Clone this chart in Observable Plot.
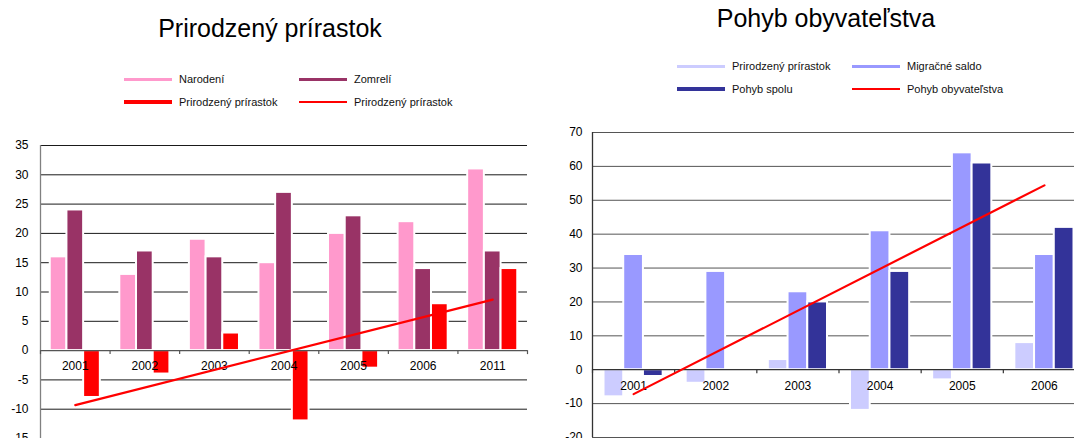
<!DOCTYPE html>
<html><head><meta charset="utf-8">
<script src="https://cdn.jsdelivr.net/npm/d3@7"></script>
<script src="https://cdn.jsdelivr.net/npm/@observablehq/plot@0.6"></script>
<style>
html,body{margin:0;padding:0;background:#fff;overflow:hidden;}
body{width:1074px;height:438px;position:relative;font-family:"Liberation Sans",Arial,sans-serif;color:#000;}
.title{position:absolute;font-size:25px;white-space:nowrap;transform:translateX(-50%);line-height:normal;}
.leg{position:absolute;height:14px;display:flex;align-items:center;font-size:11px;white-space:nowrap;color:#111;}
.leg .sw{display:inline-block;width:48px;margin-right:7px;}
.chart{position:absolute;}
.chart svg{overflow:visible;}
</style></head><body>
<script>
// ---- Left chart data: Prirodzený prírastok ----
const yearsL = ["2001","2002","2003","2004","2005","2006","2011"];
const narodeni = [16, 13, 19, 15, 20, 22, 31];
const zomreli = [24, 17, 16, 27, 23, 14, 17];
const prirastokL = [-8, -4, 3, -12, -3, 8, 14];
const trendLYears = ["2001", "2011"];
const trendLValues = [-9.3, 8.7];
const ticksL = [-15, -10, -5, 0, 5, 10, 15, 20, 25, 30, 35];

// ---- Right chart data: Pohyb obyvateľstva ----
const yearsR = ["2001","2002","2003","2004","2005","2006"];
const prirastokR = [-8, -4, 3, -12, -3, 8];
const migracne = [34, 29, 23, 41, 64, 34];
const pohybSpolu = [-2, null, 20, 29, 61, 42];
const trendRYears = ["2001", "2006"];
const trendRValues = [-7.2, 54.4];
const ticksR = [-20, -10, 0, 10, 20, 30, 40, 50, 60, 70];

const FONT = '"Liberation Sans", Arial, sans-serif';

function makeChart(cfg) {
  const {years, series, trendYears, trendValues, ticks, width, height, marginLeft, marginRight, marginTop, marginBottom,
         gridColor, axisColor, zeroColor, tickPadding} = cfg;
  const n = years.length;
  const step = (width - marginLeft - marginRight) / n;
  const band = step * 0.72;
  const w = band / 3;
  const marks = [];
  marks.push(Plot.ruleY(ticks.filter(t => t !== 0), {stroke: gridColor, strokeWidth: 1}));
  series.forEach((s, i) => {
    const rows = years.map((y, k) => ({year: y, value: s.values[k]})).filter(r => r.value != null);
    marks.push(Plot.barY(rows, {x: "year", y: "value", fill: s.color, stroke: "white", strokeWidth: 2,
      insetLeft: i * w, insetRight: (2 - i) * w}));
  });
  marks.push(Plot.ruleY([0], {stroke: zeroColor, strokeWidth: 1.3}));
  marks.push(Plot.ruleX([years[0]], {x: d => d, dx: -step / 2, stroke: axisColor, strokeWidth: 1.3}));
  marks.push(Plot.ruleX(years, {x: d => d, y1: d => 0, y2: d => 0, dx: -step / 2, insetBottom: -4, stroke: zeroColor, strokeWidth: 1.2}));
  marks.push(Plot.ruleX([years[n - 1]], {x: d => d, y1: d => 0, y2: d => 0, dx: step / 2, insetBottom: -4, stroke: zeroColor, strokeWidth: 1.2}));
  marks.push(Plot.axisY({ticks, tickSize: 0, tickPadding, tickFormat: d => String(d), fontSize: 12, label: null}));
  marks.push(Plot.text(years, {x: d => d, y: d => 0, dy: 16, text: d => d, fontSize: 12, fill: "#000"}));
  const trend = trendYears.map((y, k) => ({year: y, value: trendValues[k]}));
  marks.push(Plot.line(trend, {x: "year", y: "value", stroke: "#FF0000", strokeWidth: 2.2}));
  const svg = Plot.plot({
    width, height, marginLeft, marginRight, marginTop, marginBottom,
    style: {fontFamily: FONT, fontSize: "12px", color: "#000", background: "transparent", overflow: "visible"},
    x: {type: "band", domain: years, paddingInner: 0.28, paddingOuter: 0.14, round: false, axis: null},
    y: {domain: [ticks[0], ticks[ticks.length - 1]]},
    marks
  });
  svg.style.maxWidth = "none";
  svg.style.width = width + "px";
  svg.style.height = height + "px";
  return svg;
}

function addTitle(text, cx, top) {
  const d = document.createElement("div");
  d.className = "title"; d.textContent = text;
  d.style.left = cx + "px"; d.style.top = top + "px";
  document.body.appendChild(d);
}
function addLegend(name, color, thick, x, y) {
  const d = document.createElement("div");
  d.className = "leg";
  d.style.left = x + "px"; d.style.top = (y - 7) + "px";
  const sw = document.createElement("span");
  sw.className = "sw"; sw.style.height = thick + "px"; sw.style.background = color;
  d.appendChild(sw);
  d.appendChild(document.createTextNode(name));
  document.body.appendChild(d);
}
function place(svg, left, top, width) {
  const d = document.createElement("div");
  d.className = "chart"; d.style.left = left + "px"; d.style.top = top + "px";
  d.style.width = width + "px";
  d.appendChild(svg);
  document.body.appendChild(d);
}

// Left chart
const seriesL = [
  {name: "Narodení", values: narodeni, color: "#FF99CC"},
  {name: "Zomrelí", values: zomreli, color: "#993366"},
  {name: "Prirodzený prírastok", values: prirastokL, color: "#FF0000"}
];
addTitle("Prirodzený prírastok", 270, 14);
addLegend(seriesL[0].name, seriesL[0].color, 3, 124, 79);
addLegend(seriesL[1].name, seriesL[1].color, 3, 299, 79);
addLegend(seriesL[2].name, seriesL[2].color, 4, 124, 102);
addLegend("Prirodzený prírastok", "#FF0000", 2.5, 299, 102);
place(makeChart({
  years: yearsL, series: seriesL, trendYears: trendLYears, trendValues: trendLValues, ticks: ticksL,
  width: 540, height: 330, marginLeft: 40, marginRight: 13, marginTop: 10, marginBottom: 27,
  gridColor: "#1a1a1a", axisColor: "#808080", zeroColor: "#555", tickPadding: 12
}), 0, 135, 540);

// Right chart
const seriesR = [
  {name: "Prirodzený prírastok", values: prirastokR, color: "#CCCCFF"},
  {name: "Migračné saldo", values: migracne, color: "#9999FF"},
  {name: "Pohyb spolu", values: pohybSpolu, color: "#333399"}
];
addTitle("Pohyb obyvateľstva", 826, 4);
addLegend(seriesR[0].name, seriesR[0].color, 3, 677, 66);
addLegend(seriesR[1].name, seriesR[1].color, 3, 852, 66);
addLegend(seriesR[2].name, seriesR[2].color, 3.5, 677, 89);
addLegend("Pohyb obyvateľstva", "#FF0000", 2.5, 852, 89);
place(makeChart({
  years: yearsR, series: seriesR, trendYears: trendRYears, trendValues: trendRValues, ticks: ticksR,
  width: 560, height: 340, marginLeft: 52, marginRight: 15, marginTop: 10, marginBottom: 25,
  gridColor: "#555", axisColor: "#333", zeroColor: "#333", tickPadding: 10
}), 540, 122, 560);
</script>
</body></html>
